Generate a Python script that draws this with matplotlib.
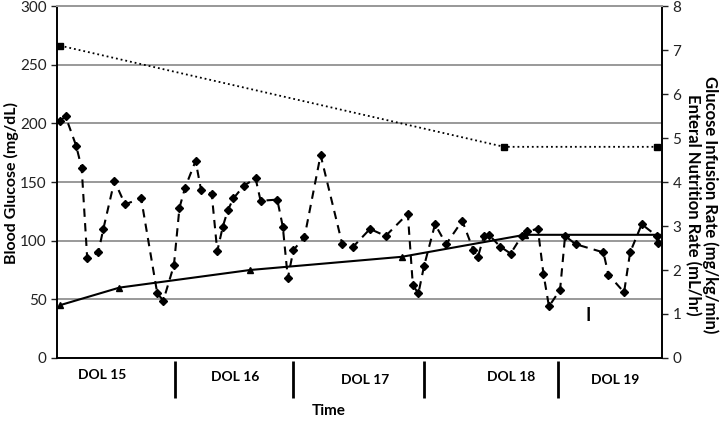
import matplotlib
matplotlib.use("Agg")
import matplotlib.pyplot as plt
import matplotlib.transforms as mtransforms

plt.rcParams['font.family'] = ['Lato', 'DejaVu Sans']

# time in hours from start of DOL 15
glucose_t = [0.6, 1.7, 3.8, 4.9, 6.0, 8.2, 9.2, 11.4, 13.5, 16.7, 19.9, 21.1,
             23.2, 24.3, 25.4, 27.5, 28.6, 30.7, 31.8, 32.9, 33.9, 35.0, 37.1,
             39.4, 40.4, 43.7, 44.8, 45.8, 46.9, 49.1, 52.3, 56.6, 58.8, 62.1,
             65.2, 69.6, 70.6, 71.7, 72.8, 75.0, 77.2, 80.4, 82.6, 83.5, 84.7,
             85.7, 87.9, 90.0, 92.2, 93.2, 95.4, 96.5, 97.6, 99.8, 100.8, 102.9,
             108.4, 109.4, 112.5, 113.7, 116.0, 119.0, 119.2]
glucose = [202, 206, 181, 162, 85, 90, 110, 151, 131, 136, 55, 49,
           79, 128, 145, 168, 143, 140, 91, 112, 126, 136, 147,
           153, 134, 135, 112, 68, 92, 103, 173, 97, 95, 110,
           104, 123, 62, 55, 78, 114, 97, 117, 92, 86, 104,
           105, 95, 89, 104, 108, 110, 72, 44, 58, 104, 97,
           90, 71, 56, 90, 114, 104, 98]

en_t = [0.6, 12.4, 38.3, 68.4, 92.8, 119.6]
en_rate = [1.2, 1.6, 2.0, 2.3, 2.8, 2.8]

gir_t = [0.6, 88.7, 119.0]
gir = [7.1, 4.8, 4.8]

day_bounds = [23.4, 46.8, 72.8, 99.4]
day_labels = ['DOL 15', 'DOL 16', 'DOL 17', 'DOL 18', 'DOL 19']
day_label_x = [8.9, 35.3, 61.1, 90.0, 110.7]
day_label_y = [-0.048, -0.054, -0.0625, -0.054, -0.0625]

fig = plt.figure(figsize=(7.21, 4.23), dpi=100)
ax = fig.add_axes([0.079, 0.1537, 0.839, 0.832])
ax2 = ax.twinx()

ax.set_xlim(0, 120)
ax.set_ylim(0, 300)
ax2.set_ylim(0, 8)
ax.set_yticks(range(0, 301, 50))
ax2.set_yticks(range(0, 9))
ax.set_xticks([])

ax.grid(axis='y', color='#999999', lw=1.4)
ax.set_axisbelow(True)
for a in (ax, ax2):
    a.spines['top'].set_color('#999999')
    a.spines['top'].set_linewidth(1.4)
    a.spines['left'].set_linewidth(1.2)
    a.spines['right'].set_linewidth(1.2)
    a.spines['bottom'].set_linewidth(1.2)
    a.tick_params(axis='y', labelsize=11, length=4, width=1, colors='#222222',
                  labelcolor='#222222')

ax.plot(glucose_t, glucose, color='black', ls=(0, (4, 3)), lw=1.5,
        marker='D', ms=4, zorder=3)
ax2.plot(en_t, en_rate, color='black', ls='-', lw=1.5, marker='^', ms=5,
         markevery=[0, 1, 2, 3, 4], zorder=3)
ax2.plot(gir_t, gir, color='black', ls=':', lw=1.3, marker='s', ms=5,
         zorder=3)

trans = mtransforms.blended_transform_factory(ax.transData, ax.transAxes)
for b in day_bounds:
    ax.plot([b, b], [-0.009, -0.114], transform=trans, color='black',
            lw=2, clip_on=False, solid_capstyle='butt')
for lab, x, y in zip(day_labels, day_label_x, day_label_y):
    ax.text(x, y, lab, transform=trans, ha='center', va='center',
            fontsize=10, fontweight='bold')
ax.text(54.0, -0.15, 'Time', transform=trans, ha='center', va='center',
        fontsize=11, fontweight='bold')

# stray cursor mark in the original
ax.text(105.3, 36, 'I', ha='center', va='center', fontsize=13,
        fontweight='bold')

fig.text(0.016, 0.567, 'Blood Glucose (mg/dL)', rotation=90, ha='center',
         va='center', fontsize=11.5, fontweight='bold')
fig.text(0.973, 0.515,
         'Glucose Infusion Rate (mg/kg/min)\nEnteral Nutrition Rate (mL/hr)',
         rotation=270, ha='center', va='center', fontsize=12,
         fontweight='bold', linespacing=1.05)

fig.savefig('out.png', dpi=100)
